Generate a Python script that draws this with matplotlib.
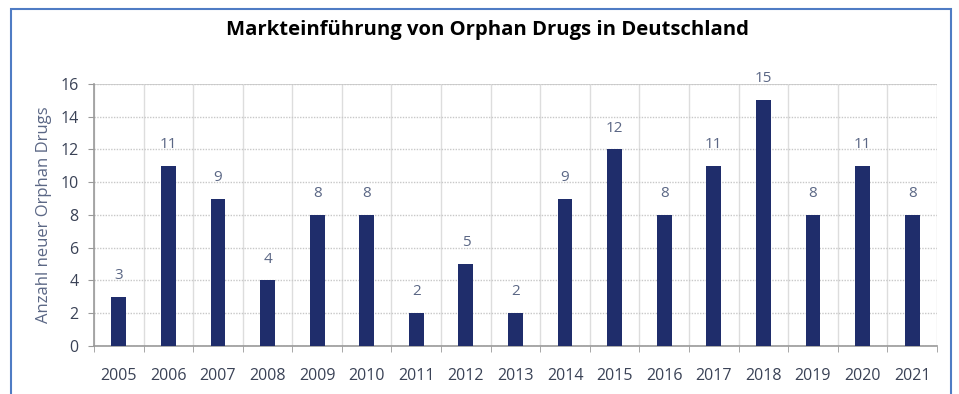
import numpy as np
import matplotlib.pyplot as plt
from matplotlib.patches import Rectangle

years = ['2005', '2006', '2007', '2008', '2009', '2010', '2011', '2012', '2013',
         '2014', '2015', '2016', '2017', '2018', '2019', '2020', '2021']
counts = [3, 11, 9, 4, 8, 8, 2, 5, 2, 9, 12, 8, 11, 15, 8, 11, 8]
yticks = [0, 2, 4, 6, 8, 10, 12, 14, 16]

bar_col = '#1f2d6b'
lab_col = '#5b6785'
grid_col = '#c8c8c8'

plt.rcParams['font.family'] = ['Open Sans', 'DejaVu Sans']

fig = plt.figure(figsize=(9.59, 3.94), dpi=100)
ax = fig.add_axes([0.098, 0.122, 0.879, 0.665])

x = np.arange(len(years))
ax.bar(x, counts, width=0.3, color=bar_col, zorder=3)
for xi, v in zip(x, counts):
    ax.annotate(str(v), (xi, v), xytext=(0, 10), textcoords='offset points',
                ha='center', va='bottom', fontsize=11, color=lab_col)

ax.set_xlim(-0.5, len(years) - 0.5)
ax.set_ylim(0, 16)
ax.set_yticks(yticks)
ax.set_xticks(x)
ax.set_xticklabels(years)
ax.set_xticks(np.arange(-0.5, len(years)), minor=True)

ax.grid(axis='y', color=grid_col, linestyle=(0, (1, 1)), linewidth=1, zorder=0)
ax.grid(axis='x', which='minor', color='#dddddd', linestyle='-', linewidth=1, zorder=0)
ax.axhline(16, color=grid_col, linewidth=1.2, zorder=1)

ax.tick_params(axis='x', which='major', length=0, pad=16, labelsize=11.5, labelcolor='#3a4256')
ax.tick_params(axis='x', which='minor', length=4, color='#999999')
ax.tick_params(axis='y', length=4, color='#999999', labelsize=11.5, labelcolor='#3a4256', pad=7)

for s in ['top', 'right']:
    ax.spines[s].set_visible(False)
for s in ['left', 'bottom']:
    ax.spines[s].set_color('#999999')
    ax.spines[s].set_linewidth(1.2)

ax.set_ylabel('Anzahl neuer Orphan Drugs', fontsize=12, color=lab_col, labelpad=6)

fig.text(0.508, 0.925, 'Markteinführung von Orphan Drugs in Deutschland',
         ha='center', va='center', fontsize=14.6, fontweight='bold', color='black')

fig.patches.append(Rectangle((11 / 959, -0.05), 940 / 959, 1.05 - 9 / 394,
                             transform=fig.transFigure, fill=False,
                             edgecolor='#4f7cc4', linewidth=1.5))

plt.savefig('out.png', dpi=100)
